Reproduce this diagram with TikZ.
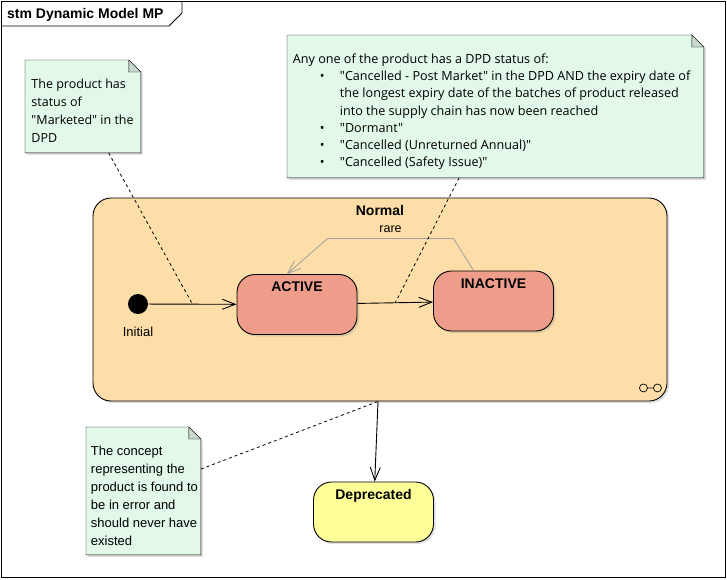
\documentclass[tikz,border=0pt]{standalone}
\usepackage{fontspec}
\setmainfont{Liberation Sans}
\newfontfamily\notefont{Open Sans}
\usepackage{tikz}
\usetikzlibrary{arrows.meta,positioning,shadows,backgrounds}

\definecolor{normalfill}{RGB}{253,222,168}
\definecolor{statefill}{RGB}{238,157,139}
\definecolor{finalfill}{RGB}{255,255,153}
\definecolor{notefill}{RGB}{226,248,232}
\definecolor{foldfill}{RGB}{200,216,205}
\definecolor{raregray}{RGB}{160,160,160}

\newcommand{\notebody}[4]{\parbox[c][#2][t]{#1}{\leftskip=#3\relax\rule{0pt}{28pt}\ignorespaces#4}}
\newcommand{\dogear}[1]{%
  \filldraw[notebox] (#1.north west) -- ([xshift=-12pt]#1.north east) -- ([yshift=-12pt]#1.north east)
    -- (#1.south east) -- (#1.south west) -- cycle;
  \filldraw[fold] ([xshift=-12pt]#1.north east) -- ([xshift=-12pt,yshift=-12pt]#1.north east)
    -- ([yshift=-12pt]#1.north east) -- cycle;}

\begin{document}
\begin{tikzpicture}[x=1pt,y=-1pt,>={Straight Barb[length=13pt,width=10pt]},line width=0.9pt,
  shadowed/.style={drop shadow={shadow xshift=2pt,shadow yshift=-2pt,opacity=.25}},
  composite/.style={draw,fill=normalfill,rounded corners=18pt,minimum width=574pt,minimum height=203pt,shadowed},
  state/.style={draw,fill=statefill,rounded corners=18pt,minimum width=120pt,minimum height=60pt,inner sep=0pt,shadowed},
  final/.style={state,fill=finalfill},
  statename/.style={anchor=north,inner sep=0pt,yshift=-7.5pt,font=\fontsize{14}{16}\selectfont\bfseries},
  initial/.style={circle,fill=black,minimum size=20pt,inner sep=0pt},
  plain/.style={font=\fontsize{13}{15}\selectfont},
  note/.style={anchor=north west,inner sep=0pt,font=\notefont\fontsize{12.5}{18}\selectfont},
  notebox/.style={fill=notefill,draw,shadowed},
  fold/.style={fill=foldfill,draw},
  notelink/.style={dash pattern=on 3pt off 3pt,line width=0.8pt},
  rare/.style={->,draw=raregray,line width=0.8pt}]

  \draw (1.5,1.5) rectangle (725.5,577.5);
  \draw (1.5,26) -- (169,26) -- (182,13) -- (182,1.5);
  \node[anchor=base west,inner sep=0pt,font=\fontsize{14}{16}\selectfont\bfseries] (title) at (6.7,18.3) {stm Dynamic Model MP};

  \node[composite,label={[statename]north:Normal}] (norm) at (380,299.5) {};
  \node[initial] (init) at (138,304) {};
  \node[plain] (initlbl) [below=9pt of init] {Initial};
  \node[state,label={[statename]north:ACTIVE}] (act) at (297,304.5) {};
  \node[state,label={[statename]north:INACTIVE}] (inact) at (493.5,301) {};
  \node[final,label={[statename]north:Deprecated}] (dep) at (373.5,512) {};

  \draw[->] (init) -- coordinate (tInit) (act);
  \draw[->] (act) -- coordinate (tAct) (inact);
  \draw[rare] ([xshift=-20pt]inact.north) -- ++(-20,-32)
    -- node[above=2.5pt,plain,font=\fontsize{12.5}{15}\selectfont] {rare} ++(-126,0) -- ([xshift=-10pt]act.north);
  \coordinate (normOut) at ([xshift=-2pt]norm.south);
  \draw[->] (normOut) -- (dep);

  \draw[line width=0.7pt] ([shift={(-24,-13.5)}]norm.south east) circle[radius=4pt]
    ([shift={(-20,-13.5)}]norm.south east) -- ([shift={(-14,-13.5)}]norm.south east)
    ([shift={(-10,-13.5)}]norm.south east) circle[radius=4pt];

  \node[note] (mkt) at (25,60) {\notebody{115pt}{92pt}{6pt}{The product has\\
    status of\\
    "Marketed" in the\\
    DPD}};
  \node[note,font=\notefont\fontsize{12.6}{17.2}\selectfont] (cancel) at (287,35) {\notebody{416pt}{142pt}{5.5pt}{Any one of the product has a DPD status of:\\
    \hspace*{27pt}\makebox[20pt][l]{\textbullet}"Cancelled - Post Market" in the DPD AND the expiry date of\\
    \hspace*{47pt}the longest expiry date of the batches of product released\\
    \hspace*{47pt}into the supply chain has now been reached\\
    \hspace*{27pt}\makebox[20pt][l]{\textbullet}"Dormant"\\
    \hspace*{27pt}\makebox[20pt][l]{\textbullet}"Cancelled (Unreturned Annual)"\\
    \hspace*{27pt}\makebox[20pt][l]{\textbullet}"Cancelled (Safety Issue)"}};
  \node[note,font=\fontsize{13}{18}\selectfont] (error) at (86,427) {\notebody{114pt}{127pt}{4.5pt}{The concept\\
    representing the\\
    product is found to\\
    be in error and\\
    should never have\\
    existed}};

  \draw[notelink] (mkt) -- (tInit);
  \draw[notelink] (cancel) -- (tAct);
  \draw[notelink] (error) -- (normOut);

  \begin{pgfonlayer}{background}
    \fill[white] (0,0) rectangle (727,579);
    \dogear{mkt}
    \dogear{cancel}
    \dogear{error}
  \end{pgfonlayer}
\end{tikzpicture}
\end{document}
